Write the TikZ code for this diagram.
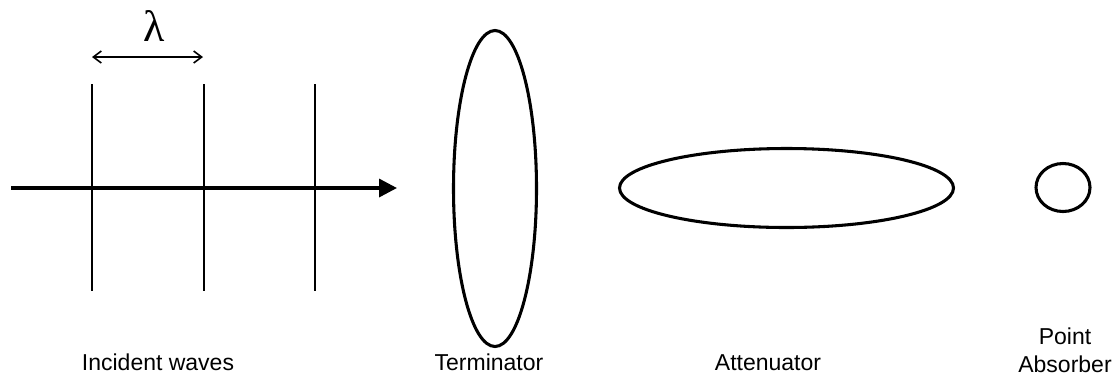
\documentclass[tikz,border=0pt]{standalone}
\usepackage{fontspec}
\setmainfont{Liberation Sans}
\newfontfamily\lamfont{Liberation Serif}
\usetikzlibrary{arrows.meta,shapes.geometric,positioning}
\tikzset{
  body/.style={ellipse,draw,line width=2.3pt,inner sep=0pt},
  lbl/.style={font=\fontsize{17.25}{21}\selectfont,inner sep=0pt,align=center},
  crest/.style={line width=1.3pt},
}
\begin{document}
\begin{tikzpicture}[x=0.75pt,y=-0.75pt]
    \useasboundingbox (0,0) rectangle (1120,376);
    % wave crests
    \foreach \x [count=\i] in {92,204,315}{
        \draw[crest] (\x,84) -- (\x,291);
    }
    \coordinate (lamL) at (92,57);
    \coordinate (lamR) at (203,57);
    \draw[line width=1.2pt,{Straight Barb[length=6pt,width=9pt]}-{Straight Barb[length=6pt,width=9pt]}] (lamL) -- (lamR);
    \node[anchor=base,inner sep=0pt,font=\lamfont\fontsize{33}{36}\selectfont] (lam) at (154,41) {λ};

    \coordinate (src) at (11,188);
    \coordinate (dst) at (397,188);
    \draw[line width=2.6pt,-{Triangle[length=13.5pt,width=13.5pt]}] (src) -- (dst);

    \node[body,minimum width=62.25pt,minimum height=237pt] (term) at (495,188.5) {};
    \node[body,minimum width=250.5pt,minimum height=59.25pt] (atten) at (786.5,188) {};
    \node[body,minimum width=40.5pt,minimum height=36pt] (point) at (1063,187.5) {};

    \node[lbl,anchor=base] (incL) at (158,370) {Incident waves};
    \node[lbl,anchor=base] (termL) at (489,370) {Terminator};
    \node[lbl,anchor=base] (attenL) at (768,370) {Attenuator};
    \node[lbl,anchor=south] (pointL) at (1065,373) {Point\\Absorber};
\end{tikzpicture}
\end{document}
